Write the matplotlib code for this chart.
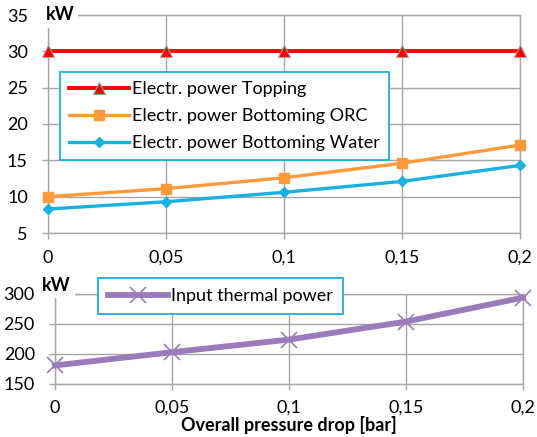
import matplotlib
matplotlib.use("Agg")
import matplotlib.pyplot as plt

# ---- data ----
pressure_drop = [0, 0.05, 0.1, 0.15, 0.2]
xtick_labels = ["0", "0,05", "0,1", "0,15", "0,2"]
topping = [30, 30, 30, 30, 30]
bottoming_orc = [10.0, 11.1, 12.6, 14.6, 17.1]
bottoming_water = [8.3, 9.3, 10.6, 12.1, 14.3]
thermal_input = [181, 203, 224, 254, 294]
top_yticks = [5, 10, 15, 20, 25, 30, 35]
bot_yticks = [150, 200, 250, 300]

plt.rcParams['font.family'] = ['Lato', 'DejaVu Sans']
FS = 13
GRID = '#a6a6a6'
W, H = 537, 437

fig = plt.figure(figsize=(W / 100, H / 100), dpi=100)


def px_axes(left, right, top, bottom):
    return fig.add_axes([left / W, 1 - bottom / H, (right - left) / W, (bottom - top) / H])


def style(ax, yticks, ylim, xpad):
    ax.set_xlim(0, 0.2)
    ax.set_ylim(*ylim)
    ax.set_xticks(pressure_drop)
    ax.set_xticklabels(xtick_labels)
    ax.set_yticks(yticks)
    ax.grid(True, color=GRID, linewidth=1.0)
    ax.set_axisbelow(True)
    for s in ax.spines.values():
        s.set_color(GRID)
        s.set_linewidth(1.0)
    ax.tick_params(axis='both', colors=GRID, labelcolor='black', labelsize=FS,
                   length=4, width=1.0, direction='out')
    ax.tick_params(axis='x', pad=xpad)
    ax.tick_params(axis='y', pad=10.5)


# ---- top chart ----
ax1 = px_axes(48, 520, 15, 233)
l1, = ax1.plot(pressure_drop, topping, color='#ff0000', lw=2.8, marker='^', ms=9,
               mfc='#ff0000', mec='#a0a0a0', mew=0.8, clip_on=False, zorder=5,
               label='Electr. power Topping')
l2, = ax1.plot(pressure_drop, bottoming_orc, color='#ff9a3c', lw=2.4, marker='s', ms=7.5,
               mfc='#ff9a3c', mec='#ff9a3c', clip_on=False, zorder=5,
               label='Electr. power Bottoming ORC')
l3, = ax1.plot(pressure_drop, bottoming_water, color='#1ab0e0', lw=2.4, marker='D', ms=5.5,
               mfc='#1ab0e0', mec='#1ab0e0', clip_on=False, zorder=5,
               label='Electr. power Bottoming Water')
style(ax1, top_yticks, (5, 35), 8)
leg1 = ax1.legend(handles=[l1, l2, l3], loc='upper left',
                  bbox_to_anchor=((60 - 48) / 472, (233 - 72) / 218),
                  fontsize=FS, frameon=True, fancybox=False, handlelength=3.3,
                  handletextpad=0.2, borderpad=0.5, labelspacing=0.62,
                  borderaxespad=0)
leg1.get_frame().set_edgecolor('#1ab0e0')
leg1.get_frame().set_linewidth(1.3)
leg1.get_frame().set_alpha(1)
ax1.text(-0.005, 1.0, 'kW', transform=ax1.transAxes, fontsize=FS, fontweight='bold',
         ha='left', va='center', zorder=10,
         bbox=dict(facecolor='white', edgecolor='none', pad=3))

# ---- bottom chart ----
ax2 = px_axes(55, 523, 294, 384)
l4, = ax2.plot(pressure_drop, thermal_input, color='#9b7bbb', lw=4.2, marker='x', ms=11,
               mew=1.2, mec='#9b7bbb', clip_on=False, zorder=5,
               label='Input thermal power')
style(ax2, bot_yticks, (150, 300), 7.5)
leg2 = ax2.legend(handles=[l4], loc='upper left',
                  bbox_to_anchor=((98 - 55) / 468, (384 - 278) / 90),
                  fontsize=FS, frameon=True, fancybox=False, handlelength=3.3,
                  handletextpad=0.2, borderpad=0.55, borderaxespad=0)
leg2.get_frame().set_edgecolor('#1ab0e0')
leg2.get_frame().set_linewidth(1.3)
leg2.get_frame().set_alpha(1)
ax2.text(-0.027, 1.0, 'kW', transform=ax2.transAxes, fontsize=FS, fontweight='bold',
         ha='left', va='bottom', zorder=10,
         bbox=dict(facecolor='white', edgecolor='none', pad=3))
ax2.set_xlabel('Overall pressure drop [bar]', fontsize=FS, fontweight='bold', labelpad=0.3)

fig.savefig('out.png', dpi=100)
